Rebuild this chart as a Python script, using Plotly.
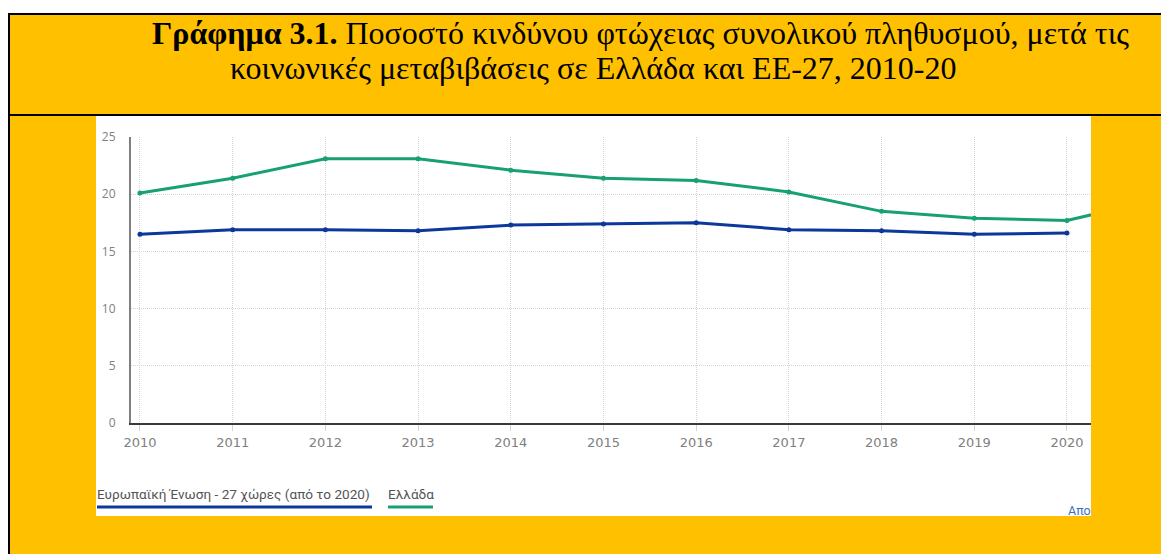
import plotly.graph_objects as go

# ---- data ----
years_eu = [2010, 2011, 2012, 2013, 2014, 2015, 2016, 2017, 2018, 2019, 2020]
eu27 = [16.5, 16.9, 16.9, 16.8, 17.3, 17.4, 17.5, 16.9, 16.8, 16.5, 16.6]
years_gr = [2010, 2011, 2012, 2013, 2014, 2015, 2016, 2017, 2018, 2019, 2020, 2021]
greece = [20.1, 21.4, 23.1, 23.1, 22.1, 21.4, 21.2, 20.2, 18.5, 17.9, 17.7, 19.6]
series_names = ["Ευρωπαϊκή Ένωση - 27 χώρες (από το 2020)", "Ελλάδα"]
series_colors = ["#0c389c", "#17a074"]
y_ticks = [0, 5, 10, 15, 20, 25]
title_line1 = "<b>Γράφημα 3.1.</b> Ποσοστό κινδύνου φτώχειας συνολικού πληθυσμού, μετά τις"
title_line2 = "κοινωνικές μεταβιβάσεις σε Ελλάδα και ΕΕ-27, 2010-20"
source_text = "Απο"

# page has an 8px body margin; screen coords S map to figure coords S-8
OFF = 8
SW, SH = 1169, 554
W, H = SW - OFF, SH - OFF
L, R, T, B = 131, 1091, 137, 423   # plot area in screen coords
YELLOW = "#FFC000"


def px(x):
    return (x - L) / (R - L)


def py(y):
    return (B - y) / (B - T)


fig = go.Figure()
fig.add_trace(go.Scatter(x=years_eu, y=eu27, mode="lines+markers", name=series_names[0],
                         line=dict(color=series_colors[0], width=3),
                         marker=dict(color=series_colors[0], size=5)))
fig.add_trace(go.Scatter(x=years_gr, y=greece, mode="lines+markers", name=series_names[1],
                         line=dict(color=series_colors[1], width=3),
                         marker=dict(color=series_colors[1], size=5)))

shapes = []
# white area above the yellow frame
shapes.append(dict(type="rect", xref="paper", yref="paper", x0=px(0), x1=px(SW + 5), y0=py(0), y1=py(13),
                   fillcolor="white", line_width=0, layer="below"))
# white chart panel
shapes.append(dict(type="rect", xref="paper", yref="paper", x0=px(96), x1=px(1091), y0=py(116), y1=py(516),
                   fillcolor="white", line_width=0, layer="below"))
# black frame lines
shapes.append(dict(type="line", xref="paper", yref="paper", x0=px(8), x1=px(SW + 5), y0=py(14), y1=py(14),
                   line=dict(color="black", width=2), layer="below"))
shapes.append(dict(type="line", xref="paper", yref="paper", x0=px(9), x1=px(9), y0=py(13), y1=py(SH + 5),
                   line=dict(color="black", width=2), layer="below"))
shapes.append(dict(type="line", xref="paper", yref="paper", x0=px(8), x1=px(SW + 5), y0=py(115), y1=py(115),
                   line=dict(color="black", width=2), layer="below"))
# legend underlines
shapes.append(dict(type="line", xref="paper", yref="paper", x0=px(97), x1=px(372), y0=py(507), y1=py(507),
                   line=dict(color=series_colors[0], width=3)))
shapes.append(dict(type="line", xref="paper", yref="paper", x0=px(388), x1=px(433), y0=py(507), y1=py(507),
                   line=dict(color=series_colors[1], width=3)))

annotations = [
    dict(text=title_line1, xref="paper", yref="paper", x=px(150), y=py(33), xanchor="left", yanchor="middle",
         showarrow=False, font=dict(family="Liberation Serif", size=32, color="black")),
    dict(text=title_line2, xref="paper", yref="paper", x=px(228), y=py(68), xanchor="left", yanchor="middle",
         showarrow=False, font=dict(family="Liberation Serif", size=32, color="black")),
    dict(text=series_names[0], xref="paper", yref="paper", x=px(95), y=py(494), xanchor="left", yanchor="middle",
         showarrow=False, font=dict(family="Roboto", size=13.6, color="#555555")),
    dict(text=series_names[1], xref="paper", yref="paper", x=px(386), y=py(494), xanchor="left", yanchor="middle",
         showarrow=False, font=dict(family="Roboto", size=13.6, color="#555555")),
    dict(text=source_text, xref="paper", yref="paper", x=px(1093), y=py(510), xanchor="right", yanchor="middle",
         showarrow=False, font=dict(family="Roboto", size=12.5, color="#3a6fc4")),
]

fig.update_layout(
    width=W, height=H,
    margin=dict(l=L - OFF, r=W - (R - OFF), t=T - OFF, b=H - (B - OFF), pad=0),
    paper_bgcolor=YELLOW, plot_bgcolor="white",
    showlegend=False,
    shapes=shapes, annotations=annotations,
    xaxis=dict(range=[2009.903, 2020.259], tickmode="array", tickvals=years_eu,
               ticktext=[str(y) for y in years_eu],
               showgrid=True, gridcolor="#d4d4d4", griddash="1px,1px", gridwidth=1,
               showline=True, linecolor="#3a3a3a", linewidth=2,
               ticks="outside", ticklen=6, tickcolor="#c9d6f0", tickwidth=1,
               tickfont=dict(family="DejaVu Sans", size=13, color="#808080"),
               zeroline=False, fixedrange=True),
    yaxis=dict(range=[0, 25], tickmode="array", tickvals=y_ticks,
               showgrid=True, gridcolor="#d4d4d4", griddash="1px,1px", gridwidth=1,
               showline=True, linecolor="#808080", linewidth=2,
               ticks="", ticklabelstandoff=11,
               tickfont=dict(family="Open Sans", size=12, color="#808080"),
               zeroline=False, fixedrange=True),
)

fig.write_html("out.html")
